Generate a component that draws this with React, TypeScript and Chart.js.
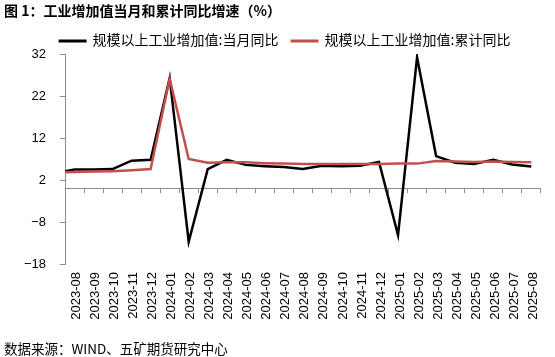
import React, { useEffect, useRef } from 'react';
import { Chart, registerables } from 'chart.js';

Chart.register(...registerables);

// Months: the first one (2023-07) lies just left of the visible window, so the
// black and red lines enter from the axis as in the reference.
const allMonths = [
  '2023-07', '2023-08', '2023-09', '2023-10', '2023-11', '2023-12',
  '2024-01', '2024-02', '2024-03', '2024-04', '2024-05', '2024-06',
  '2024-07', '2024-08', '2024-09', '2024-10', '2024-11', '2024-12',
  '2025-01', '2025-02', '2025-03', '2025-04', '2025-05', '2025-06',
  '2025-07', '2025-08',
];

// 规模以上工业增加值:当月同比 (%)
const monthlyYoY = [
  3.7, 4.5, 4.5, 4.6, 6.6, 6.8,
  26.3, -12.7, 4.6, 6.8, 5.6, 5.3,
  5.1, 4.6, 5.4, 5.3, 5.4, 6.3,
  -11.1, 31.2, 7.7, 6.1, 5.8, 6.8,
  5.7, 5.2,
];

// 规模以上工业增加值:累计同比 (%)
const cumulativeYoY = [
  3.8, 3.9, 4.0, 4.1, 4.3, 4.6,
  26.1, 7.0, 6.1, 6.2, 6.2, 6.0,
  5.9, 5.8, 5.8, 5.8, 5.8, 5.8,
  5.9, 5.9, 6.5, 6.4, 6.3, 6.4,
  6.3, 6.2,
];

const yTicks = [-18, -8, 2, 12, 22, 32];

const seriesLabels = ['规模以上工业增加值:当月同比', '规模以上工业增加值:累计同比'];

const AXIS_COLOR = '#8c8c8c';
const LATIN_FONT = '"Liberation Sans", Arial, sans-serif';
const CJK_FONT = '"Noto Sans CJK SC", "Noto Sans", sans-serif';

const legendPlugin = {
  id: 'topLegend',
  afterDraw(chart: any) {
    const ctx = chart.ctx;
    ctx.save();
    ctx.font = `14px ${CJK_FONT}`;
    ctx.textBaseline = 'middle';
    const items = chart.data.datasets.map((ds: any) => ({
      text: ds.label,
      color: ds.borderColor,
      w: ctx.measureText(ds.label).width,
    }));
    const sample = 28;
    const gap = 6;
    const spacing = 12;
    const total =
      items.reduce((a: number, it: any) => a + sample + gap + it.w, 0) +
      spacing * (items.length - 1);
    let x = 284.5 - total / 2;
    const y = 41;
    for (const it of items) {
      ctx.strokeStyle = it.color;
      ctx.lineWidth = 3;
      ctx.beginPath();
      ctx.moveTo(x, y);
      ctx.lineTo(x + sample, y);
      ctx.stroke();
      ctx.fillStyle = '#000';
      ctx.fillText(it.text, x + sample + gap, y - 1);
      x += sample + gap + it.w + spacing;
    }
    ctx.restore();
  },
};

export default function App() {
  const canvasRef = useRef<HTMLCanvasElement | null>(null);

  useEffect(() => {
    if (!canvasRef.current) return;
    const xMin = 0.5;
    const xMax = allMonths.length - 0.5;
    const chart = new Chart(canvasRef.current, {
      type: 'line',
      data: {
        datasets: [
          {
            label: seriesLabels[0],
            data: monthlyYoY.map((v, i) => ({ x: i, y: v })),
            borderColor: '#000000',
            backgroundColor: '#000000',
            borderWidth: 2.5,
            pointRadius: 0,
            tension: 0,
            order: 1,
            clip: 0,
          },
          {
            label: seriesLabels[1],
            data: cumulativeYoY.map((v, i) => ({ x: i, y: v })),
            borderColor: '#C0504D',
            backgroundColor: '#C0504D',
            borderWidth: 2.5,
            pointRadius: 0,
            tension: 0,
            order: 0,
            clip: 0,
          },
        ],
      },
      options: {
        responsive: false,
        animation: false,
        devicePixelRatio: 1,
        layout: { padding: { left: 0, right: 8, top: 54, bottom: 33 } },
        plugins: {
          legend: { display: false },
          title: { display: false },
          tooltip: { enabled: false },
        },
        scales: {
          x: {
            type: 'linear',
            min: xMin,
            max: xMax,
            position: { y: 0 } as any,
            afterBuildTicks: (s: any) => {
              s.ticks = allMonths.map((_, i) => ({ value: i + 0.5 }));
            },
            ticks: { display: false },
            grid: {
              drawOnChartArea: false,
              drawTicks: true,
              tickLength: 4,
              color: AXIS_COLOR,
              tickColor: AXIS_COLOR,
            },
            border: { display: true, color: AXIS_COLOR, width: 1 },
          },
          x2: {
            type: 'linear',
            axis: 'x',
            min: xMin,
            max: xMax,
            position: 'bottom',
            afterBuildTicks: (s: any) => {
              s.ticks = allMonths.slice(1).map((_, i) => ({ value: i + 1 }));
            },
            afterFit: (s: any) => {
              s.height = 60;
            },
            ticks: {
              autoSkip: false,
              minRotation: 90,
              maxRotation: 90,
              padding: 8,
              labelOffset: 2,
              color: '#000',
              font: { family: LATIN_FONT, size: 13 },
              callback: (v: any) => allMonths[Math.round(Number(v))] ?? '',
            },
            grid: { display: false, drawTicks: false },
            border: { display: false },
          },
          y: {
            type: 'linear',
            min: -18,
            max: 32,
            position: 'left',
            afterBuildTicks: (s: any) => {
              s.ticks = yTicks.map((v) => ({ value: v }));
            },
            afterFit: (s: any) => {
              s.width = 65;
            },
            ticks: {
              padding: 14,
              color: '#000',
              font: { family: LATIN_FONT, size: 13 },
              callback: (v: any) => {
                const n = Number(v);
                return n < 0 ? '\u2212' + Math.abs(n) : String(n);
              },
            },
            grid: {
              drawOnChartArea: false,
              drawTicks: true,
              tickLength: 5,
              color: AXIS_COLOR,
              tickColor: AXIS_COLOR,
            },
            border: { display: true, color: AXIS_COLOR, width: 1 },
          },
        },
      } as any,
      plugins: [legendPlugin],
    });
    return () => chart.destroy();
  }, []);

  return (
    <div style={{ position: 'absolute', left: 0, top: 0, width: 555, height: 357, background: '#fff' }}>
      <canvas ref={canvasRef} width={555} height={357} style={{ display: 'block', width: 555, height: 357 }} />
      <div
        style={{
          position: 'absolute',
          left: 4,
          top: 3,
          font: `bold 14px ${CJK_FONT}`,
          lineHeight: '14px',
          color: '#000',
          whiteSpace: 'nowrap',
        }}
      >
        图 1：工业增加值当月和累计同比增速（%）
      </div>
      <div
        style={{
          position: 'absolute',
          left: 4,
          top: 341,
          font: `13.5px ${CJK_FONT}`,
          lineHeight: '14px',
          color: '#000',
          whiteSpace: 'nowrap',
        }}
      >
        数据来源：WIND、五矿期货研究中心
      </div>
    </div>
  );
}
